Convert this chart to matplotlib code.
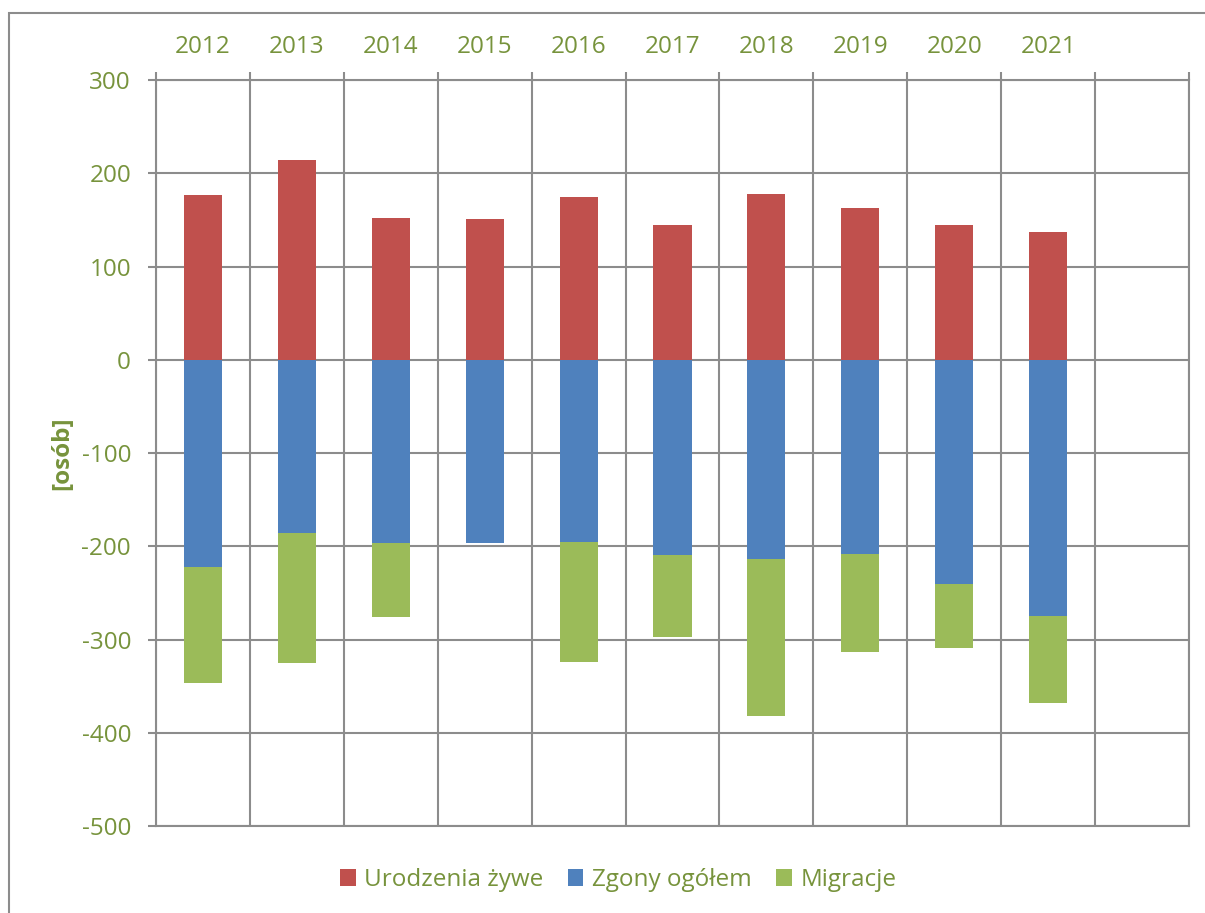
import numpy as np
import matplotlib.pyplot as plt
from matplotlib.patches import Rectangle, Patch

# ── Data ─────────────────────────────────────────────────────────────────────
YEARS = ["2012", "2013", "2014", "2015", "2016", "2017", "2018", "2019", "2020", "2021"]
URODZENIA = [177, 214, 152, 151, 174, 144, 178, 163, 145, 137]
ZGONY = [-222, -186, -197, -197, -195, -209, -214, -208, -240, -275]
MIGRACJE = [-125, -139, -79, 0, -129, -88, -168, -105, -69, -93]

SERIES_NAMES = ["Urodzenia żywe", "Zgony ogółem", "Migracje"]
COLORS = ["#C0504D", "#4F81BD", "#9BBB59"]
TEXT_COLOR = "#77933C"
GRID_COLOR = "#8C8C8C"
# ─────────────────────────────────────────────────────────────────────────────

plt.rcParams["font.family"] = ["Open Sans", "DejaVu Sans"]
plt.rcParams["axes.unicode_minus"] = False

fig = plt.figure(figsize=(12.05, 9.13), dpi=100)
ax = fig.add_axes([156 / 1205, 1 - 826 / 913, (1189 - 156) / 1205, (826 - 80) / 913])

x = np.arange(len(YEARS))
w = 0.405
ax.bar(x, URODZENIA, width=w, color=COLORS[0], linewidth=0, zorder=3)
ax.bar(x, ZGONY, width=w, color=COLORS[1], linewidth=0, zorder=3)
ax.bar(x, MIGRACJE, width=w, bottom=ZGONY, color=COLORS[2], linewidth=0, zorder=3)

n_slots = len(YEARS) + 1
ax.set_xlim(-0.5, n_slots - 0.5)
ax.set_ylim(-500, 300)

# y axis
ax.set_yticks(np.arange(-500, 301, 100))
ax.tick_params(axis="y", direction="out", length=6, width=1.5, color=GRID_COLOR,
               labelcolor=TEXT_COLOR, labelsize=17.5, pad=12)
ax.set_ylabel("[osób]", color=TEXT_COLOR, fontsize=17.5, fontweight="bold", labelpad=5)

# category axis on top: boundaries as major ticks, labels at centres
ax.xaxis.set_ticks_position("top")
ax.xaxis.set_label_position("top")
ax.set_xticks(np.arange(n_slots + 1) - 0.5)
ax.set_xticklabels([])
ax.set_xticks(x, minor=True)
ax.set_xticklabels(YEARS, minor=True)
ax.tick_params(axis="x", which="major", direction="out", length=6, width=1.5,
               color=GRID_COLOR, top=True, bottom=False)
ax.tick_params(axis="x", which="minor", length=0, labelcolor=TEXT_COLOR,
               labelsize=17.5, pad=15, top=True, bottom=False)

ax.grid(True, which="major", color=GRID_COLOR, linewidth=1.5, zorder=0)
ax.set_axisbelow(True)
for s in ax.spines.values():
    s.set_color(GRID_COLOR)
    s.set_linewidth(1.5)

handles = [Patch(facecolor=c, label=n) for c, n in zip(COLORS, SERIES_NAMES)]
leg = fig.legend(handles=handles, loc="center", bbox_to_anchor=(618 / 1205, 1 - 880 / 913),
                 ncol=3, frameon=False, fontsize=17.5, handlelength=0.65, handleheight=0.65,
                 handletextpad=0.35, columnspacing=1.0)
for t in leg.get_texts():
    t.set_color(TEXT_COLOR)

# outer chart frame
fig.patches.append(Rectangle((9 / 1205, -0.02), 1.02, 1 - 13 / 913 + 0.02,
                             transform=fig.transFigure, fill=False,
                             edgecolor=GRID_COLOR, linewidth=1.5, clip_on=False))

fig.savefig("out.png", dpi=100)
